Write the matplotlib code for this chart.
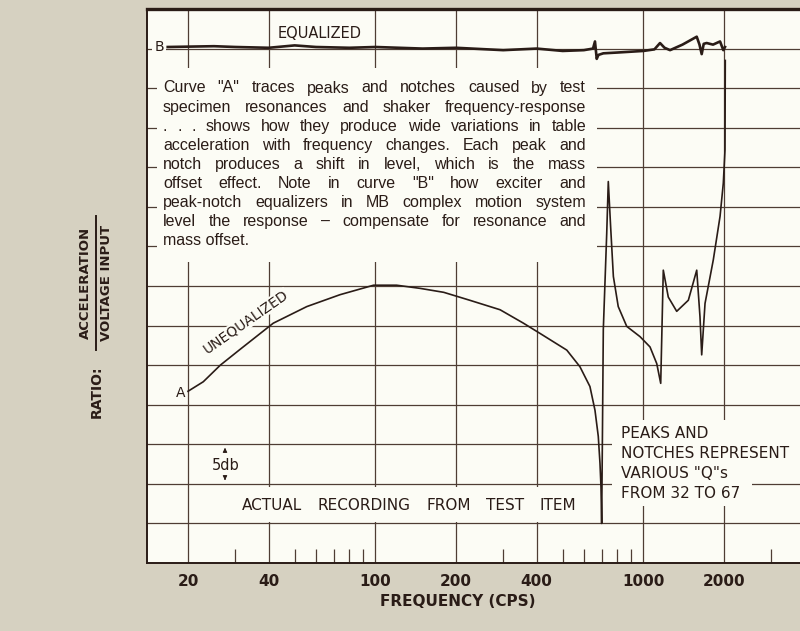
import numpy as np
import matplotlib.pyplot as plt
from matplotlib.patches import Rectangle
from matplotlib.ticker import NullFormatter

# curve A (unequalized) - frequency in cps, level in db
freq_a = [20, 22.8, 26.4, 31.3, 41.6, 55.5, 73.8, 98.5, 120, 147, 180, 225, 292,
          357, 412, 518, 580, 632, 660, 679, 689, 695, 699, 704, 709, 719, 730, 740,
          755, 773, 806, 867, 972, 1059, 1122, 1161, 1187, 1239, 1332, 1472, 1582,
          1627, 1651, 1699, 1824, 1933, 1988, 2017, 2022]
db_a = [21.7, 22.9, 25.0, 27.0, 30.3, 32.4, 33.9, 35.1, 35.1, 34.7, 34.2, 33.2, 32.0,
        30.3, 29.0, 26.9, 24.8, 22.3, 19.3, 16.0, 12.6, 9.6, 5.0, 17.0, 29.5, 35.3, 41.6, 48.2,
        42.5, 36.2, 32.4, 29.9, 28.6, 27.3, 25.2, 22.7, 37.0, 33.6, 31.8, 33.2, 37.0,
        31.1, 26.3, 32.8, 38.3, 43.8, 48.0, 52.2, 63.5]

# curve B (equalized)
freq_b = [16.8, 25, 30, 40, 50, 60, 80, 100, 150, 200, 300, 400, 500, 600, 649, 660, 670, 680,
          709, 800, 1000, 1100, 1154, 1200, 1258, 1400, 1582, 1620, 1651, 1680, 1723, 1820,
          1933, 1988, 2017]
db_b = [65.2, 65.3, 65.2, 65.1, 65.4, 65.2, 65.1, 65.2, 65.0, 65.1, 64.8, 65.0, 64.7, 64.8, 65.0,
        65.9, 63.7, 64.2, 64.4, 64.5, 64.7, 64.9, 65.7, 65.1, 64.8, 65.5, 66.5, 65.5, 64.3, 65.6,
        65.7, 65.5, 65.9, 64.8, 65.2]

freq_ticks = [20, 40, 100, 200, 400, 1000, 2000]
freq_labels = ['20', '40', '100', '200', '400', '1000', '2000']
minor_ticks = [30, 50, 60, 70, 80, 90, 300, 500, 600, 700, 800, 900, 3000]
db_grid = list(range(0, 75, 5))

note_lines = [
    'Curve "A" traces peaks and notches caused by test',
    'specimen resonances and shaker frequency-response',
    '. . . shows how they produce wide variations in table',
    'acceleration with frequency changes. Each peak and',
    'notch produces a shift in level, which is the mass',
    'offset effect. Note in curve "B" how exciter and',
    'peak-notch equalizers in MB complex motion system',
    'level the response \u2013 compensate for resonance and',
    'mass offset.',
]
peak_lines = ['PEAKS AND', 'NOTCHES REPRESENT', 'VARIOUS "Q"s', 'FROM 32 TO 67']

W, H = 800, 631
ink = '#2a1c17'
grid_c = '#4e3d34'
paper = '#fcfcf5'


def P(x, y):
    # pixel position (from top-left) -> figure fraction
    return x / W, 1 - y / H


fig = plt.figure(figsize=(8, 6.31), dpi=100, facecolor='#d6d1c1')
ax = fig.add_axes([147 / W, 1 - 563 / H, 653 / W, 554 / H])
ax.set_facecolor(paper)
ax.set_xscale('log')
ax.set_xlim(14.06, 3842)
ax.set_ylim(0, 70)

ax.set_xticks(freq_ticks, freq_labels)
ax.set_xticks(minor_ticks, minor=True)
ax.xaxis.set_minor_formatter(NullFormatter())
ax.set_yticks(db_grid)
ax.set_yticklabels([])
ax.grid(True, which='major', color=grid_c, lw=0.9)
ax.set_axisbelow(True)
ax.tick_params(which='major', length=0, pad=8, labelsize=11, labelcolor=ink)
ax.tick_params(which='minor', direction='in', length=10, width=0.9, color=grid_c)
for lab in ax.get_xticklabels():
    lab.set_fontweight('bold')

ax.spines['right'].set_visible(False)
ax.spines['top'].set_linewidth(2.4)
ax.spines['left'].set_linewidth(1.4)
ax.spines['bottom'].set_linewidth(1.4)
for s in ['top', 'left', 'bottom']:
    ax.spines[s].set_color(ink)

# white areas behind the labels
boxes = [(157, 68, 597, 262), (236, 487, 590, 522), (612, 420, 800, 481), (612, 481, 752, 506)]
for x0, y0, x1, y1 in boxes:
    ax.add_patch(Rectangle(P(x0, y1), (x1 - x0) / W, (y1 - y0) / H, transform=fig.transFigure,
                           facecolor=paper, edgecolor='none', zorder=2))

ax.plot(freq_b, db_b, color=ink, lw=1.9, zorder=3)
ax.plot(freq_a, db_a, color=ink, lw=1.2, zorder=3)

renderer = fig.canvas.get_renderer()


def justify(line, x0, x1, y, size, family):
    words = line.split()
    arts = [fig.text(0, 0, w, fontsize=size, color=ink, va='center', family=family) for w in words]
    widths = [a.get_window_extent(renderer).width for a in arts]
    gap = (x1 - x0 - sum(widths)) / max(len(words) - 1, 1)
    x = x0
    for a, w in zip(arts, widths):
        a.set_position(P(x, y))
        x += w + gap


for i, line in enumerate(note_lines):
    y = 88 + i * 19.1
    if i == len(note_lines) - 1:
        fig.text(*P(163, y), line, fontsize=11.5, color=ink, va='center', family='Liberation Sans')
    else:
        justify(line, 163, 586, y, 11.5, 'Liberation Sans')

justify('ACTUAL RECORDING FROM TEST ITEM', 242, 576, 506, 11, 'DejaVu Sans')

for i, line in enumerate(peak_lines):
    fig.text(*P(621, 434 + i * 19.8), line, fontsize=11, color=ink, va='center')

fig.text(*P(320, 34), 'EQUALIZED', fontsize=10.5, color=ink, ha='center', va='center')
ax.text(*P(159, 47), 'B', fontsize=10, color=ink, ha='center', va='center',
        transform=fig.transFigure, zorder=2.5, clip_on=False,
        bbox=dict(facecolor=paper, edgecolor='none', pad=1.5))
fig.text(*P(181, 393), 'A', fontsize=10, color=ink, ha='center', va='center')
ax.text(*P(246, 322), 'UNEQUALIZED', fontsize=10, color=ink, ha='center', va='center',
        rotation=35, rotation_mode='anchor', transform=fig.transFigure, zorder=2.5,
        bbox=dict(facecolor=paper, edgecolor='none', pad=0.3))

fig.text(*P(226, 465), '5db', fontsize=10.5, color=ink, ha='center', va='center')
ax.annotate('', xy=P(225, 445), xytext=P(225, 453), xycoords='figure fraction',
            arrowprops=dict(arrowstyle='-|>', lw=0.8, mutation_scale=6, color=ink))
ax.annotate('', xy=P(225, 483), xytext=P(225, 476), xycoords='figure fraction',
            arrowprops=dict(arrowstyle='-|>', lw=0.8, mutation_scale=6, color=ink))

fig.text(*P(458, 601), 'FREQUENCY (CPS)', fontsize=11, fontweight='bold', color=ink,
         ha='center', va='center')

# y label: RATIO: ACCELERATION / VOLTAGE INPUT
fig.text(*P(85, 283), 'ACCELERATION', fontsize=9.5, fontweight='bold', color=ink,
         rotation=90, ha='center', va='center')
fig.text(*P(106, 283), 'VOLTAGE INPUT', fontsize=9.5, fontweight='bold', color=ink,
         rotation=90, ha='center', va='center')
fig.add_artist(plt.Line2D([95.5 / W, 95.5 / W], [1 - 350 / H, 1 - 216 / H], color=ink, lw=1.4))
fig.text(*P(97, 392), 'RATIO:', fontsize=10, fontweight='bold', color=ink,
         rotation=90, ha='center', va='center')

fig.savefig('out.png', dpi=100, facecolor=fig.get_facecolor())
